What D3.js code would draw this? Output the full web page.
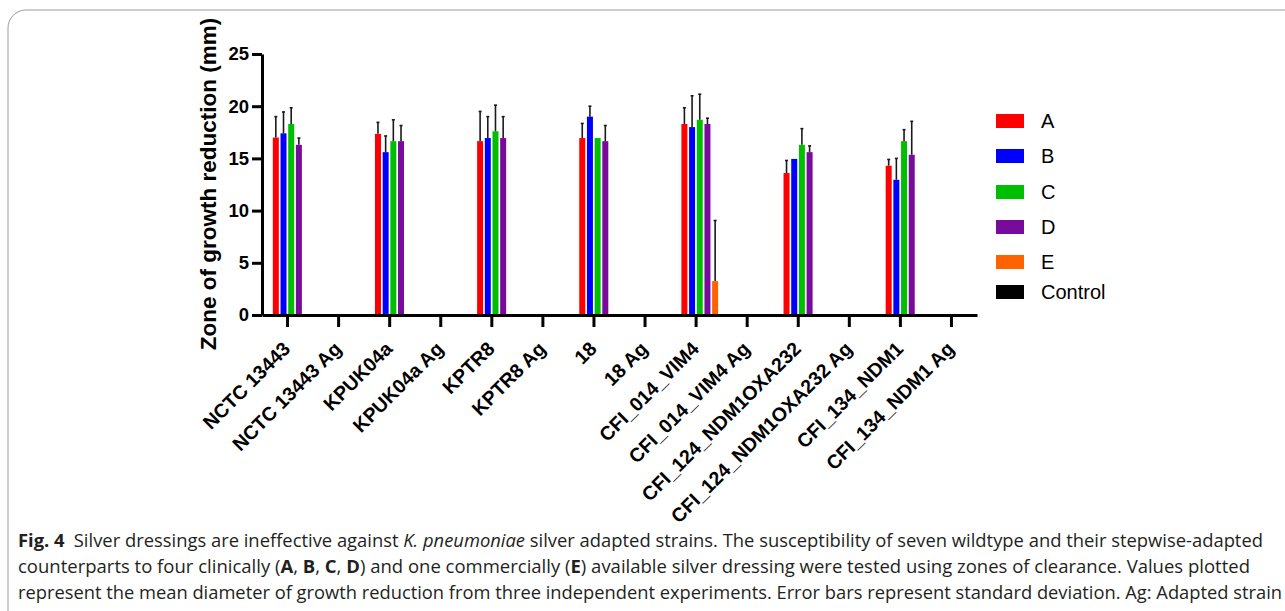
<!DOCTYPE html>
<html>
<head>
<meta charset="utf-8">
<script src="https://cdn.jsdelivr.net/npm/d3@7"></script>
<style>
    body { margin: 0; background: #fff; }
    svg { display: block; }
</style>
</head>
<body>
<svg id="chart"></svg>
<script>
// Strains on the x axis
const strains = ["NCTC 13443", "NCTC 13443 Ag", "KPUK04a", "KPUK04a Ag", "KPTR8", "KPTR8 Ag", "18", "18 Ag",
    "CFI_014_VIM4", "CFI_014_VIM4 Ag", "CFI_124_NDM1OXA232", "CFI_124_NDM1OXA232 Ag", "CFI_134_NDM1", "CFI_134_NDM1 Ag"];

// Silver dressings (series)
const dressings = ["A", "B", "C", "D", "E", "Control"];
const dressingColors = ["#ff0000", "#0000ff", "#00bf00", "#780a9c", "#ff6200", "#000000"];

// Mean zone of growth reduction (mm), null = no bar
const meanA = [17.0, null, 17.35, null, 16.65, null, 16.95, null, 18.3, null, 13.6, null, 14.3, null];
const meanB = [17.4, null, 15.6, null, 16.95, null, 19.0, null, 18.0, null, 14.95, null, 12.95, null];
const meanC = [18.3, null, 16.65, null, 17.6, null, 16.95, null, 18.7, null, 16.3, null, 16.65, null];
const meanD = [16.3, null, 16.65, null, 16.95, null, 16.65, null, 18.3, null, 15.6, null, 15.35, null];
const meanE = [null, null, null, null, null, null, null, null, 3.25, null, null, null, null, null];
const meanControl = [null, null, null, null, null, null, null, null, null, null, null, null, null, null];

// Standard deviations
const sdA = [2.0, null, 1.1, null, 2.85, null, 1.4, null, 1.55, null, 1.2, null, 0.6, null];
const sdB = [2.05, null, 1.55, null, 2.05, null, 1.0, null, 3.0, null, 0, null, 2.05, null];
const sdC = [1.55, null, 2.05, null, 2.5, null, 0, null, 2.45, null, 1.55, null, 1.1, null];
const sdD = [0.65, null, 1.5, null, 2.05, null, 1.5, null, 0.55, null, 0.6, null, 3.2, null];
const sdE = [null, null, null, null, null, null, null, null, 5.8, null, null, null, null, null];
const sdControl = [null, null, null, null, null, null, null, null, null, null, null, null, null, null];

const yTicks = [0, 5, 10, 15, 20, 25];

const means = [meanA, meanB, meanC, meanD, meanE, meanControl];
const sds = [sdA, sdB, sdC, sdD, sdE, sdControl];

const chartFont = "'Liberation Sans', Arial, sans-serif";

const svg = d3.select("#chart")
    .attr("width", 1285)
    .attr("height", 611);

// Figure frame
svg.append("rect")
    .attr("x", 8)
    .attr("y", 10)
    .attr("width", 1320)
    .attr("height", 640)
    .attr("rx", 18)
    .attr("fill", "none")
    .attr("stroke", "#9a9a9a")
    .attr("stroke-width", 1);

const x = d3.scaleBand()
    .domain(strains)
    .range([262, 977])
    .padding(0);

// position of each dressing inside a strain group, offset from the tick
const xInner = d3.scaleBand()
    .domain(dressings)
    .range([-16.4, 31.4])
    .padding(0.22);

const y = d3.scaleLinear()
    .domain([0, 25])
    .range([315, 54]);

// flatten into bar records
const bars = [];
dressings.forEach((s, i) => {
    strains.forEach((strain, j) => {
        if (means[i][j] !== null)
            bars.push({ strain, dressing: s, color: dressingColors[i], mean: means[i][j], sd: sds[i][j] });
    });
});

const barX = d => x(d.strain) + x.bandwidth() / 2 + xInner(d.dressing);

// Bars
svg.append("g")
    .selectAll("rect")
    .data(bars)
    .enter()
    .append("rect")
    .attr("x", d => barX(d))
    .attr("y", d => y(d.mean))
    .attr("width", xInner.bandwidth())
    .attr("height", d => y(0) - y(d.mean))
    .attr("fill", d => d.color);

// Error bars (upper half only)
const errG = svg.append("g")
    .attr("stroke", "#1a1a1a")
    .attr("stroke-width", 1.6);

bars.filter(d => d.sd > 0).forEach(d => {
    const bx = barX(d) + xInner.bandwidth() / 2;
    errG.append("line")
        .attr("x1", bx).attr("x2", bx)
        .attr("y1", y(d.mean)).attr("y2", y(d.mean + d.sd));
    errG.append("line")
        .attr("x1", bx - 1.5).attr("x2", bx + 1.5)
        .attr("y1", y(d.mean + d.sd)).attr("y2", y(d.mean + d.sd));
});

// Y axis
const yAxis = svg.append("g")
    .attr("transform", "translate(262,0)")
    .call(d3.axisLeft(y).tickValues(yTicks).tickSize(10).tickPadding(3).tickSizeOuter(0));
yAxis.select(".domain").attr("stroke", "#000").attr("stroke-width", 3);
yAxis.selectAll(".tick line").attr("stroke", "#000").attr("stroke-width", 3);
yAxis.selectAll(".tick text")
    .attr("fill", "#000")
    .style("font-family", chartFont)
    .style("font-weight", "bold")
    .style("font-size", "18.5px");

// X axis
const xAxis = svg.append("g")
    .attr("transform", "translate(0,315)")
    .call(d3.axisBottom(x).tickSize(12).tickSizeOuter(0));
xAxis.select(".domain").attr("stroke", "#000").attr("stroke-width", 3);
xAxis.selectAll(".tick line").attr("stroke", "#000").attr("stroke-width", 3);
xAxis.selectAll(".tick text")
    .attr("fill", "#000")
    .attr("y", 0)
    .attr("dy", 0)
    .attr("text-anchor", "end")
    .attr("transform", "translate(4,35) rotate(-45)")
    .style("font-family", chartFont)
    .style("font-weight", "bold")
    .style("font-size", "19.5px");

// Y axis title
svg.append("text")
    .attr("transform", "translate(216,184) rotate(-90)")
    .attr("text-anchor", "middle")
    .style("font-family", chartFont)
    .style("font-weight", "bold")
    .style("font-size", "22.5px")
    .text("Zone of growth reduction (mm)");

// Legend
const legendY = [121, 156, 192, 227, 262, 292];
const legend = svg.append("g");
dressings.forEach((s, i) => {
    legend.append("rect")
        .attr("x", 996)
        .attr("y", legendY[i] - 7)
        .attr("width", 28)
        .attr("height", 14)
        .attr("fill", dressingColors[i]);
    legend.append("text")
        .attr("x", 1041)
        .attr("y", legendY[i] + 7)
        .style("font-family", chartFont)
        .style("font-size", "20px")
        .text(s);
});

// Caption
const captionFont = "'Open Sans', 'Noto Sans', sans-serif";
const cap1 = svg.append("text")
    .attr("x", 18).attr("y", 547)
    .attr("textLength", 1245).attr("lengthAdjust", "spacingAndGlyphs")
    .style("font-family", captionFont).style("font-size", "17.5px").attr("fill", "#231f20");
cap1.append("tspan").style("font-weight", "bold").text("Fig. 4");
cap1.append("tspan").text("\u2002Silver dressings are ineffective against ");
cap1.append("tspan").style("font-style", "italic").text("K. pneumoniae");
cap1.append("tspan").text(" silver adapted strains. The susceptibility of seven wildtype and their stepwise-adapted");

const cap2 = svg.append("text")
    .attr("x", 18).attr("y", 573)
    .attr("textLength", 1232).attr("lengthAdjust", "spacingAndGlyphs")
    .style("font-family", captionFont).style("font-size", "17.5px").attr("fill", "#231f20");
cap2.append("tspan").text("counterparts to four clinically (");
cap2.append("tspan").style("font-weight", "bold").text("A");
cap2.append("tspan").text(", ");
cap2.append("tspan").style("font-weight", "bold").text("B");
cap2.append("tspan").text(", ");
cap2.append("tspan").style("font-weight", "bold").text("C");
cap2.append("tspan").text(", ");
cap2.append("tspan").style("font-weight", "bold").text("D");
cap2.append("tspan").text(") and one commercially (");
cap2.append("tspan").style("font-weight", "bold").text("E");
cap2.append("tspan").text(") available silver dressing were tested using zones of clearance. Values plotted");

svg.append("text")
    .attr("x", 18).attr("y", 599)
    .attr("textLength", 1264).attr("lengthAdjust", "spacingAndGlyphs")
    .style("font-family", captionFont).style("font-size", "17.5px").attr("fill", "#231f20")
    .text("represent the mean diameter of growth reduction from three independent experiments. Error bars represent standard deviation. Ag: Adapted strain");
</script>
</body>
</html>
